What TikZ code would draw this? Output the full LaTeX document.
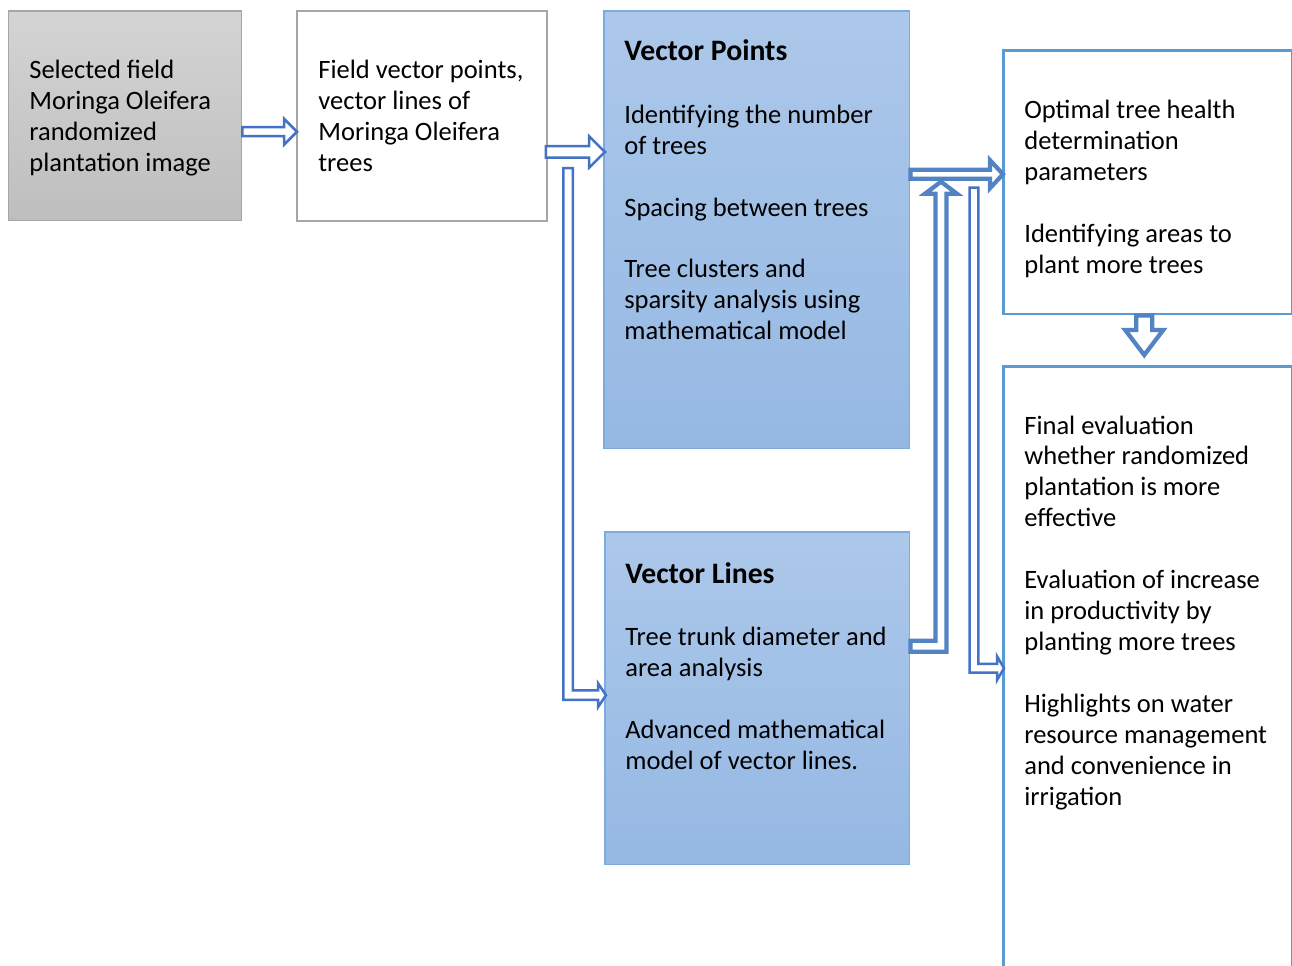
\documentclass[tikz,border=0pt]{standalone}
\usepackage{fontspec}
\setmainfont{Carlito}
\usetikzlibrary{calc}

\definecolor{grayTop}{HTML}{D4D4D4}
\definecolor{grayBot}{HTML}{BEBEBE}
\definecolor{grayLine}{HTML}{A6A6A6}
\definecolor{blueTop}{HTML}{ACC8EA}
\definecolor{blueBot}{HTML}{95B8E3}
\definecolor{blueEdge}{HTML}{7EAADD}
\definecolor{frameBlue}{HTML}{5B9BD5}
\definecolor{thinBlue}{HTML}{4472C4}
\definecolor{thickBlue}{HTML}{5283C3}

\newcommand\headfont{\fontsize{16.9pt}{17.6pt}\selectfont\bfseries}

\tikzset{
  box/.style={rectangle, anchor=north west, inner sep=0pt},
  graybox/.style={box, draw=grayLine, line width=0.03cm, top color=grayTop, bottom color=grayBot},
  plainbox/.style={box, draw=grayLine, line width=0.04cm, fill=white},
  bluebox/.style={box, draw=blueEdge, line width=0.03cm, top color=blueTop, bottom color=blueBot},
  framebox/.style={box, draw=frameBlue, line width=0.05cm, fill=white},
  txt/.style={anchor=north west, inner sep=0pt, align=left,
    font=\fontsize{15.1pt}{17.6pt}\selectfont},
  thinarrow/.style={draw=thinBlue, line width=0.05cm, fill=white, line join=miter},
  thickarrow/.style={draw=thickBlue, line width=0.085cm, fill=white, line join=miter},
}

% straight block arrow pointing right: style, start, tip, half shaft, half head, head length
\newcommand\blockright[6]{%
  \draw[#1] let \p1=#2, \p2=#3 in
    (\x1,\y1+#4) -- (\x2-#6,\y1+#4) -- (\x2-#6,\y1+#5) -- (\x2,\y1)
    -- (\x2-#6,\y1-#5) -- (\x2-#6,\y1-#4) -- (\x1,\y1-#4) -- cycle;}

% block arrow going down, then right: style, top of shaft, tip, half shaft, half head, head length
\newcommand\blockdownright[6]{%
  \draw[#1] let \p1=#2, \p2=#3 in
    (\x1-#4,\y1) -- (\x1+#4,\y1) -- (\x1+#4,\y2+#4) -- (\x2-#6,\y2+#4)
    -- (\x2-#6,\y2+#5) -- (\x2,\y2) -- (\x2-#6,\y2-#5) -- (\x2-#6,\y2-#4)
    -- (\x1-#4,\y2-#4) -- cycle;}

% block arrow going right, then up: style, start, tip, half shaft, half head, head length
\newcommand\blockrightup[6]{%
  \draw[#1] let \p1=#2, \p2=#3 in
    (\x1,\y1+#4) -- (\x2-#4,\y1+#4) -- (\x2-#4,\y2-#6) -- (\x2-#5,\y2-#6)
    -- (\x2,\y2) -- (\x2+#5,\y2-#6) -- (\x2+#4,\y2-#6) -- (\x2+#4,\y1-#4)
    -- (\x1,\y1-#4) -- cycle;}

% straight block arrow pointing down: style, start, tip, half shaft, half head, head length
\newcommand\blockdown[6]{%
  \draw[#1] let \p1=#2, \p2=#3 in
    (\x1-#4,\y1) -- (\x1-#4,\y2+#6) -- (\x1-#5,\y2+#6) -- (\x1,\y2)
    -- (\x1+#5,\y2+#6) -- (\x1+#4,\y2+#6) -- (\x1+#4,\y1) -- cycle;}

\begin{document}
\begin{tikzpicture}[x=0.02cm, y=-0.02cm]
\useasboundingbox (0,0) rectangle (1292,965);
\clip (0,0) rectangle (1292,965);

% boxes
\node[graybox,  minimum width=4.66cm, minimum height=4.2cm]  (b1) at (8,10) {};
\node[plainbox, minimum width=5.0cm,  minimum height=4.2cm]  (b2) at (296,10) {};
\node[bluebox,  minimum width=6.12cm, minimum height=8.76cm] (b3) at (603,10) {};
\node[bluebox,  minimum width=6.1cm,  minimum height=6.66cm] (b4) at (604,531) {};
\node[framebox, minimum width=5.78cm, minimum height=5.28cm] (b5) at (1002,49) {};
\node[framebox, minimum width=5.78cm, minimum height=12.4cm] (b6) at (1002,365) {};

% texts
\node[txt] (t1) at (29,56.5) {\strut Selected field\\Moringa Oleifera\\randomized\\plantation image};
\node[txt] (t2) at (318,56.5) {\strut Field vector points,\\vector lines of\\Moringa Oleifera\\trees};
\node[txt] (t3) at (624,39.5) {{\headfont Vector Points}\\[18pt]Identifying the number\\of trees\\[17.6pt]Spacing between trees\\[17.6pt]Tree clusters and\\sparsity analysis using\\mathematical model};
\node[txt] (t4) at (625,562) {{\headfont Vector Lines}\\[18pt]Tree trunk diameter and\\area analysis\\[17.6pt]Advanced mathematical\\model of vector lines.};
\node[txt] (t5) at (1024,96.5) {\strut Optimal tree health\\determination\\parameters\\[17.6pt]Identifying areas to\\plant more trees};
\node[txt] (t6) at (1024,412) {\strut Final evaluation\\whether randomized\\plantation is more\\effective\\[17.6pt]Evaluation of increase\\in productivity by\\planting more trees\\[17.6pt]Highlights on water\\resource management\\and convenience in\\irrigation};

% arrow end points
\coordinate (a1s) at ($(b1.east)+(0,16)$);
\coordinate (a1t) at ($(a1s -| b2.west)+(1,0)$);
\coordinate (a2s) at ($(b2.east)+(-2,36)$);
\coordinate (a2t) at ($(a2s -| b3.west)+(2,0)$);
\coordinate (e1s) at ($(b3.north west)+(-35,158)$);
\coordinate (e1t) at ($(b4.west)+(2,-3)$);
\coordinate (a3s) at ($(b3.east)+(0,-55.5)$);
\coordinate (a3t) at ($(a3s -| b5.west)+(1,0)$);
\coordinate (e2s) at ($(b4.east)+(0,-52)$);
\coordinate (e2t) at ($(b3.east)+(30.5,-48)$);
\coordinate (e3s) at ($(b3.east)+(63.5,-42)$);
\coordinate (e3t) at ($(b6.west)+(2,-8)$);
\coordinate (a4s) at ($(b5.south)+(-3.5,0)$);
\coordinate (a4t) at ($(b6.north)+(-3.5,-10)$);

% connectors
\blockright{thinarrow}{(a1s)}{(a1t)}{0.09cm}{0.26cm}{0.26cm}
\blockright{thinarrow}{(a2s)}{(a2t)}{0.115cm}{0.315cm}{0.32cm}
\blockdownright{thinarrow}{(e1s)}{(e1t)}{0.095cm}{0.24cm}{0.16cm}
\blockdownright{thinarrow}{(e3s)}{(e3t)}{0.088cm}{0.24cm}{0.14cm}
\blockrightup{thickarrow}{(e2s)}{(e2t)}{0.11cm}{0.32cm}{0.24cm}
\blockright{thickarrow}{(a3s)}{(a3t)}{0.09cm}{0.28cm}{0.26cm}
\blockdown{thickarrow}{(a4s)}{(a4t)}{0.16cm}{0.38cm}{0.5cm}
\end{tikzpicture}
\end{document}
